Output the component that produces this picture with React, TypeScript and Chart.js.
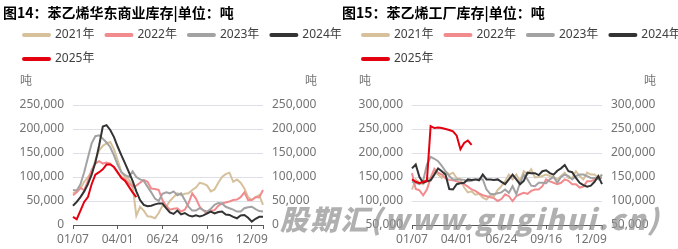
import React, { useEffect, useRef } from 'react';
import { Chart, registerables } from 'chart.js';

Chart.register(...registerables);

const FONT = "'Noto Sans', 'Noto Sans CJK SC', sans-serif";
const TICK_COLOR = '#737373';
const AXIS_COLOR = '#595959';
const GRID_COLOR = '#dedee8';

const weekLabels = [
  '01/07', '01/14', '01/21', '01/28', '02/04', '02/11', '02/18', '02/25',
  '03/04', '03/11', '03/18', '03/25', '04/01', '04/08', '04/15', '04/22', '04/29',
  '05/06', '05/13', '05/20', '05/27', '06/03', '06/10', '06/17', '06/24',
  '07/01', '07/08', '07/15', '07/22', '07/29', '08/05', '08/12', '08/19', '08/26',
  '09/02', '09/09', '09/16', '09/23', '09/30', '10/07', '10/14', '10/21', '10/28',
  '11/04', '11/11', '11/18', '11/25', '12/02', '12/09', '12/16', '12/23', '12/30',
];

const seriesNames = ['2021年', '2022年', '2023年', '2024年', '2025年'];
const seriesColors = ['#d6c19c', '#f28b8e', '#a2a2a2', '#333333', '#e3000f'];

// 图14：苯乙烯华东商业库存 (吨)
const east2021 = [66000, 70000, 76000, 90000, 100000, 110000, 135000, 155000, 165000, 170000, 173000, 158000, 135000, 110000, 100000, 95000, 82000, 19000, 38000, 30000, 18000, 17000, 14000, 25000, 40000, 38000, 50000, 58000, 66000, 62000, 65000, 66000, 73000, 78000, 88000, 86000, 82000, 70000, 74000, 88000, 100000, 106000, 109000, 90000, 95000, 88000, 76000, 58000, 52000, 58000, 62000, 42000];
const east2022 = [62000, 68000, 78000, 72000, 92000, 115000, 128000, 133000, 128000, 130000, 128000, 120000, 108000, 100000, 95000, 87000, 80000, 82000, 88000, 94000, 90000, 76000, 75000, 73000, 52000, 40000, 32000, 34000, 35000, 28000, 32000, 45000, 66000, 55000, 38000, 30000, 24000, 30000, 31000, 40000, 45000, 47000, 49000, 52000, 53000, 58000, 68000, 52000, 52000, 58000, 58000, 73000];
const east2023 = [73000, 72000, 85000, 110000, 140000, 170000, 185000, 187000, 180000, 172000, 162000, 145000, 125000, 110000, 104000, 100000, 112000, 100000, 95000, 92000, 80000, 68000, 55000, 50000, 65000, 68000, 66000, 70000, 62000, 66000, 52000, 38000, 30000, 30000, 35000, 31000, 28000, 34000, 42000, 46000, 45000, 38000, 35000, 32000, 28000, 28000, 35000, 37000, 38000, 33000, 29000, 28000];
const east2024 = [40000, 48000, 58000, 70000, 85000, 105000, 130000, 165000, 205000, 208000, 198000, 183000, 163000, 145000, 128000, 110000, 92000, 70000, 52000, 42000, 39000, 40000, 43000, 45000, 45000, 35000, 26000, 23000, 30000, 22000, 25000, 20000, 18000, 20000, 18000, 20000, 24000, 28000, 24000, 27000, 28000, 22000, 21000, 17000, 14000, 20000, 21000, 15000, 7000, 13000, 17000, 17000];
const east2025 = [17000, 12000, 30000, 48000, 58000, 85000, 105000, 110000, 116000, 126000, 126000, 121000, 110000, 98000, 92000, 80000, 68000, 58000];

// 图15：苯乙烯工厂库存 (吨)
const fac2021 = [124000, 145000, 138000, 135000, 145000, 148000, 162000, 155000, 148000, 162000, 155000, 159000, 148000, 145000, 128000, 118000, 120000, 113000, 115000, 107000, 103000, 112000, 110000, 123000, 131000, 141000, 155000, 145000, 155000, 141000, 162000, 155000, 166000, 149000, 150000, 152000, 155000, 152000, 150000, 145000, 152000, 159000, 148000, 148000, 162000, 152000, 145000, 159000, 155000, 155000, 148000, 155000];
const fac2022 = [158000, 125000, 122000, 112000, 124000, 148000, 167000, 159000, 155000, 147000, 144000, 143000, 141000, 138000, 135000, 130000, 124000, 121000, 116000, 112000, 110000, 108000, 106000, 100000, 104000, 114000, 110000, 100000, 110000, 114000, 117000, 115000, 121000, 124000, 124000, 131000, 145000, 141000, 138000, 135000, 138000, 145000, 142000, 135000, 135000, 128000, 130000, 141000, 141000, 145000, 148000, 148000];
const fac2023 = [140000, 138000, 135000, 142000, 176000, 192000, 188000, 183000, 173000, 162000, 152000, 145000, 145000, 145000, 144000, 141000, 142000, 145000, 146000, 145000, 124000, 115000, 114000, 116000, 118000, 124000, 117000, 131000, 114000, 138000, 155000, 145000, 132000, 131000, 138000, 138000, 137000, 145000, 150000, 138000, 150000, 155000, 152000, 145000, 152000, 155000, 155000, 152000, 148000, 148000, 145000, 155000];
const fac2024 = [168000, 176000, 150000, 138000, 141000, 143000, 155000, 168000, 162000, 155000, 125000, 124000, 135000, 137000, 138000, 145000, 144000, 145000, 143000, 155000, 145000, 145000, 144000, 145000, 140000, 135000, 145000, 155000, 145000, 135000, 142000, 159000, 158000, 158000, 154000, 162000, 164000, 158000, 155000, 163000, 168000, 175000, 162000, 160000, 148000, 138000, 133000, 130000, 132000, 140000, 152000, 135000];
const fac2025 = [145000, 140000, 137000, 140000, 142000, 256000, 252000, 253000, 252000, 250000, 248000, 245000, 236000, 208000, 221000, 226000, 217000];

const eastTicks = { min: 0, max: 250000, step: 50000 };
const facTicks = { min: 50000, max: 300000, step: 50000 };

Chart.defaults.font.family = FONT;

const LEGEND_HEIGHT = 88;

const legendSpace = {
  id: 'legendSpace',
  beforeLayout(chart: any) {
    const lg: any = chart.legend;
    if (lg && !lg._spacePatched) {
      const orig = lg.fit;
      lg.fit = function () {
        orig.call(this);
        this.height = LEGEND_HEIGHT;
      };
      lg._spacePatched = true;
    }
  },
};

const unitLabel = {
  id: 'unitLabel',
  afterDraw(chart: any) {
    const { ctx, chartArea } = chart;
    ctx.save();
    ctx.font = `12px ${FONT}`;
    ctx.fillStyle = TICK_COLOR;
    ctx.textBaseline = 'middle';
    ctx.textAlign = 'left';
    ctx.fillText('吨', chartArea.left - 53, chartArea.top - 23);
    ctx.textAlign = 'right';
    ctx.fillText('吨', chartArea.right + 54, chartArea.top - 23);
    ctx.restore();
  },
};

const fmt = (v: any) => Number(v).toLocaleString('en-US');

function Panel({ title, series, range, left }: { title: string; series: number[][]; range: { min: number; max: number; step: number }; left: number }) {
  const ref = useRef<HTMLCanvasElement>(null);
  useEffect(() => {
    if (!ref.current) return;
    const lastIdx = weekLabels.length - 1;
    const chart = new Chart(ref.current, {
      type: 'line',
      data: {
        labels: weekLabels,
        datasets: series.map((d, i) => ({
          label: seriesNames[i],
          data: d,
          borderColor: seriesColors[i],
          backgroundColor: seriesColors[i],
          borderWidth: 2,
          pointRadius: 0,
          pointHoverRadius: 0,
          tension: 0,
          fill: false,
          order: series.length - i,
          yAxisID: 'y',
        })),
      },
      options: {
        animation: false,
        responsive: false,
        maintainAspectRatio: false,
        layout: { padding: { left: 12, right: 0, top: 17, bottom: 0 } },
        plugins: {
          tooltip: { enabled: false },
          title: { display: false },
          legend: {
            display: true,
            position: 'top',
            align: 'start',
            labels: {
              usePointStyle: true,
              pointStyle: 'line',
              pointStyleWidth: 25,
              padding: 12,
              color: '#404040',
              font: { size: 12, family: FONT },
              sort: (a: any, b: any) => a.datasetIndex - b.datasetIndex,
              generateLabels: (c: any) =>
                (Chart.defaults.plugins.legend.labels as any).generateLabels(c).map((l: any) => ({
                  ...l,
                  lineWidth: 4,
                  lineCap: 'round',
                  pointStyle: 'line',
                })),
            },
          },
        },
        scales: {
          x: {
            type: 'category',
            offset: false,
            grid: {
              display: true,
              drawOnChartArea: false,
              drawTicks: true,
              tickLength: 4,
              lineWidth: 1,
              color: (ctx: any) => (ctx.index % 12 === 0 || ctx.index === lastIdx ? AXIS_COLOR : 'rgba(0,0,0,0)'),
            },
            border: { display: true, color: AXIS_COLOR, width: 1 },
            ticks: {
              autoSkip: false,
              maxRotation: 0,
              minRotation: 0,
              padding: 3,
              color: TICK_COLOR,
              font: { size: 12, family: FONT },
              callback: (_v: any, i: number) => (i % 12 === 0 ? weekLabels[i] : ''),
            },
            afterFit: (s: any) => {
              s.height = 24;
            },
          },
          y: {
            position: 'left',
            min: range.min,
            max: range.max,
            grid: { display: true, drawTicks: false, color: GRID_COLOR, lineWidth: 1 },
            border: { display: false },
            ticks: { stepSize: range.step, padding: 9, color: TICK_COLOR, font: { size: 12, family: FONT }, callback: fmt },
            afterFit: (s: any) => {
              s.width = 61;
            },
          },
          y2: {
            position: 'right',
            min: range.min,
            max: range.max,
            grid: { display: false, drawTicks: false },
            border: { display: false },
            ticks: { stepSize: range.step, padding: 9, color: TICK_COLOR, font: { size: 12, family: FONT }, callback: fmt },
            afterFit: (s: any) => {
              s.width = 97;
            },
          },
        },
      } as any,
      plugins: [legendSpace, unitLabel],
    });
    return () => chart.destroy();
  }, []);

  return (
    <div style={{ position: 'absolute', left, top: 0, width: 360, height: 249 }}>
      <canvas ref={ref} width={360} height={249} style={{ position: 'absolute', left: 0, top: 0, width: 360, height: 249, display: 'block' }} />
      <div
        style={{
          position: 'absolute',
          left: 3,
          top: 3,
          font: "bold 14px 'Noto Sans CJK SC', sans-serif",
          lineHeight: '18px',
          color: '#000',
          whiteSpace: 'nowrap',
        }}
      >
        {title}
      </div>
    </div>
  );
}

export default function App() {
  useEffect(() => {
    document.body.style.margin = '0';
    document.body.style.overflow = 'hidden';
  }, []);
  return (
    <div style={{ position: 'relative', width: 678, height: 249, overflow: 'hidden', background: '#fff' }}>
      <Panel title="图14：苯乙烯华东商业库存|单位：吨" series={[east2021, east2022, east2023, east2024, east2025]} range={eastTicks} left={0} />
      <Panel title="图15：苯乙烯工厂库存|单位：吨" series={[fac2021, fac2022, fac2023, fac2024, fac2025]} range={facTicks} left={339} />
      <div
        style={{
          position: 'absolute',
          left: 280,
          top: 200,
          font: "italic 900 28px 'Noto Sans CJK SC', sans-serif",
          lineHeight: '36px',
          letterSpacing: '2.2px',
          color: 'rgba(150,150,150,0.75)',
          whiteSpace: 'nowrap',
          pointerEvents: 'none',
        }}
      >
        股期汇(www.gugihui.cn)
      </div>
    </div>
  );
}
